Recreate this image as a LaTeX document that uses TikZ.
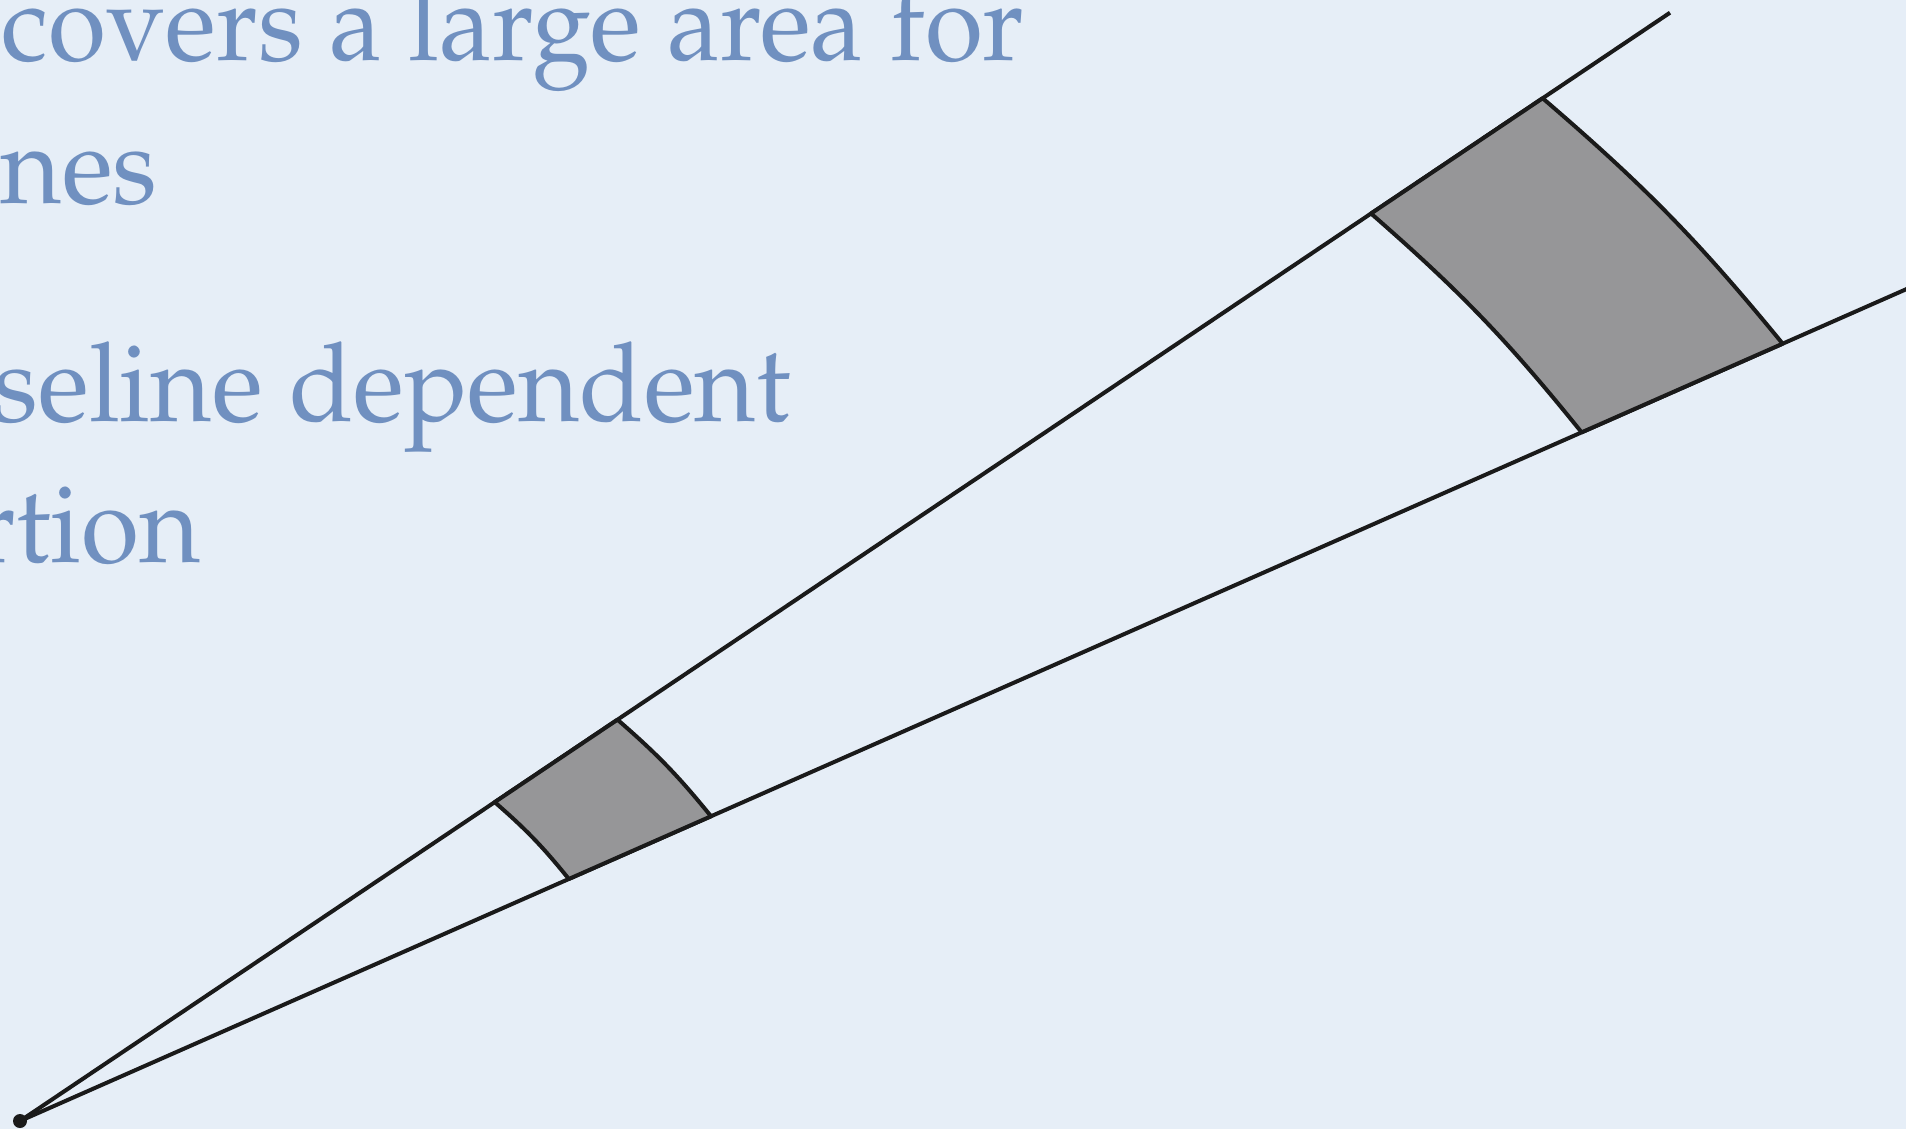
\documentclass[tikz,border=0pt]{standalone}
\usepackage[T1]{fontenc}
\usepackage{mathpazo}
\usetikzlibrary{calc}
\definecolor{bg}{RGB}{230,238,247}
\definecolor{txt}{RGB}{112,144,192}
\definecolor{patchgrey}{RGB}{150,150,152}
\definecolor{ink}{RGB}{26,26,26}
\newcommand{\slideline}[1]{\scalebox{0.96}[1]{#1}}
\begin{document}
\begin{tikzpicture}[x=0.5pt,y=-0.5pt,
  ray/.style={draw=ink,line width=2pt},
  patchbox/.style={fill=patchgrey,draw=ink,line width=2pt,line join=round},
  slidetext/.style={text=txt,font=\fontencoding{T1}\fontfamily{ppl}\fontsize{55}{66}\selectfont,inner sep=0pt,anchor=base east}]
\useasboundingbox (0,0) rectangle (1906,1129);
\clip (0,0) rectangle (1906,1129);
\fill[bg] (0,0) rectangle (1906,1129);
% slide text (cut off at the left edge)
\node[slidetext] (t1) at (1025,61) {\slideline{covers a large area for}};
\node[slidetext] (t2) at (158,203) {\slideline{nes}};
\node[slidetext] (t3) at (791,421) {\slideline{seline dependent}};
\node[slidetext] (t4) at (201,562) {\slideline{rtion}};
% apex and rays
\node[circle,fill=ink,inner sep=0pt,minimum size=7pt] (A) at (20,1121) {};
\coordinate (U) at (1670,12.7);
\coordinate (L) at (1906,289.3);
\coordinate (Lx) at ($(A.center)!1.03!(L)$);
\draw[ray] (A.center) -- (U);
\draw[ray] (A.center) -- (Lx);
% patch corners
\coordinate (sUL) at ($(A.center)!0.2877!(U)$);
\coordinate (sUR) at ($(A.center)!0.3621!(U)$);
\coordinate (sLL) at ($(A.center)!0.2910!(L)$);
\coordinate (sLR) at ($(A.center)!0.3664!(L)$);
\coordinate (bUL) at ($(A.center)!0.8188!(U)$);
\coordinate (bUR) at ($(A.center)!0.9228!(U)$);
\coordinate (bLL) at ($(A.center)!0.8280!(L)$);
\coordinate (bLR) at ($(A.center)!0.9346!(L)$);
% patches
\draw[patchbox] (sUL) -- (sUR) to[bend left=5] (sLR) -- (sLL) to[bend right=5] cycle;
\draw[patchbox] (bUL) -- (bUR) to[bend left=5] (bLR) -- (bLL) to[bend right=5] cycle;
\end{tikzpicture}
\end{document}
